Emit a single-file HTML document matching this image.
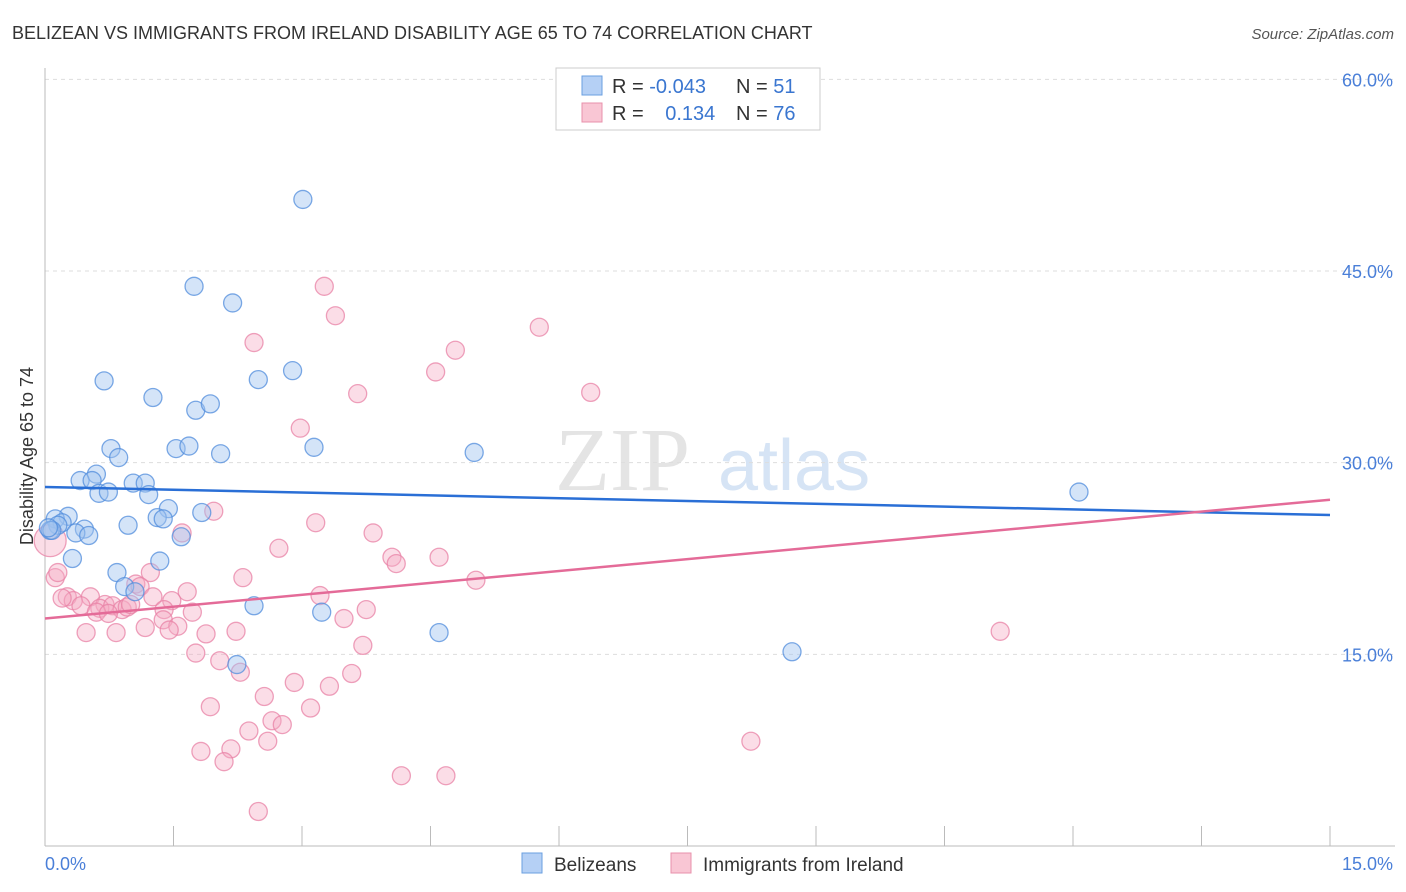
<!DOCTYPE html>
<html><head><meta charset="utf-8"><style>
body{margin:0;background:#fff;font-family:"Liberation Sans",sans-serif;}
svg{display:block}
</style></head><body>
<svg id="chart" width="1406" height="892" xmlns="http://www.w3.org/2000/svg">
<text x="12" y="39" font-size="18" fill="#333">BELIZEAN VS IMMIGRANTS FROM IRELAND DISABILITY AGE 65 TO 74 CORRELATION CHART</text>
<text x="1394" y="39" font-size="15" fill="#555" text-anchor="end" font-style="italic">Source: ZipAtlas.com</text>
<g>
<text x="555" y="490" font-size="90" fill="#e4e4e4" font-family="Liberation Serif,serif">ZIP</text>
<text x="718" y="490" font-size="72" fill="#d6e4f5">atlas</text>
</g>
<g id="grid"></g>
<g id="axes"></g>
<g id="pink"></g>
<g id="blue"></g>
<g id="trends"></g>
<text transform="translate(33,456) rotate(-90)" font-size="18" fill="#333" text-anchor="middle">Disability Age 65 to 74</text>
<g>
<rect x="556" y="68" width="264" height="62" fill="#fff" stroke="#ccc"/>
<rect x="582" y="76" width="20" height="19" fill="#b5d0f5" stroke="#6a9fe0"/>
<rect x="582" y="103" width="20" height="19" fill="#f9c6d4" stroke="#e890ab"/>
<text x="612" y="93" font-size="20" fill="#333">R = <tspan fill="#3a76d0">-0.043</tspan></text>
<text x="736" y="93" font-size="20" fill="#333">N = <tspan fill="#3a76d0">51</tspan></text>
<text x="612" y="120" font-size="20" fill="#333">R = <tspan fill="#3a76d0" dx="16">0.134</tspan></text>
<text x="736" y="120" font-size="20" fill="#333">N = <tspan fill="#3a76d0">76</tspan></text>
</g>
<g>
<rect x="522" y="853" width="20" height="20" fill="#b5d0f5" stroke="#6a9fe0"/>
<text x="554" y="871" font-size="19" fill="#333">Belizeans</text>
<rect x="671" y="853" width="20" height="20" fill="#f9c6d4" stroke="#e890ab"/>
<text x="703" y="871" font-size="19" fill="#333">Immigrants from Ireland</text>
</g>
</svg>
<script>
const yTicks=[15,30,45,60];
const yTickLabels=["15.0%","30.0%","45.0%","60.0%"];
const xTicks=[0,1.5,3,4.5,6,7.5,9,10.5,12,13.5,15];
const blueX=[3.01,1.74,2.19,0.69,2.49,2.89,1.26,1.76,1.93,0.77,0.86,1.53,1.68,2.05,3.14,5.01,0.60,0.41,0.55,1.03,1.17,0.63,0.74,1.21,12.07,1.44,1.31,1.38,1.83,0.27,0.12,0.20,0.15,0.06,0.46,0.36,0.51,0.97,1.59,0.32,1.34,0.84,0.93,1.05,2.44,3.23,4.60,2.24,8.72,0.08,0.04];
const blueY=[50.6,43.8,42.5,36.4,36.5,37.2,35.1,34.1,34.6,31.1,30.4,31.1,31.3,30.7,31.2,30.8,29.1,28.6,28.6,28.4,28.4,27.6,27.7,27.5,27.7,26.4,25.7,25.6,26.1,25.8,25.6,25.3,25.1,24.7,24.8,24.5,24.3,25.1,24.2,22.5,22.3,21.4,20.3,19.9,18.8,18.3,16.7,14.2,15.2,24.7,24.9];
const pinkX=[3.26,3.39,2.44,5.77,4.79,4.56,3.65,6.37,2.98,1.97,3.16,3.83,2.73,4.05,4.10,4.60,1.60,2.31,1.23,5.03,0.12,0.15,0.06,0.53,0.26,0.33,0.20,0.70,0.42,1.06,1.11,1.66,1.48,1.26,3.21,0.64,0.79,0.90,0.96,1.00,0.60,0.74,1.39,1.72,1.38,1.55,3.49,3.75,0.48,0.83,1.17,1.45,1.88,2.23,11.15,3.71,1.76,2.04,2.28,3.58,2.91,3.32,2.56,1.93,3.10,2.65,2.77,2.38,2.17,2.60,1.82,2.09,8.24,4.16,4.68,2.49];
const pinkY=[43.8,41.5,39.4,40.6,38.8,37.1,35.4,35.5,32.7,26.2,25.3,24.5,23.3,22.6,22.1,22.6,24.5,21.0,21.4,20.8,21.0,21.4,23.9,19.5,19.5,19.2,19.4,18.9,18.8,20.5,20.3,19.9,19.2,19.5,19.6,18.6,18.8,18.5,18.7,18.9,18.3,18.2,18.5,18.3,17.7,17.2,17.8,18.5,16.7,16.7,17.1,16.9,16.6,16.8,16.8,15.7,15.1,14.5,13.6,13.5,12.8,12.5,11.7,10.9,10.8,9.8,9.5,9.0,7.6,8.2,7.4,6.6,8.2,5.5,5.5,2.7];
const blueTrend=[28.1,25.9];
const pinkTrend=[17.8,27.1];
const X0=45,X1=1330,Y0=846,PXPER=191.67/15;
const sx=v=>X0+(v/15)*(X1-X0);
const sy=v=>Y0-v*PXPER;
const NS="http://www.w3.org/2000/svg";
function mk(tag,attrs,parent){const e=document.createElementNS(NS,tag);for(const k in attrs)e.setAttribute(k,attrs[k]);parent.appendChild(e);return e;}
const grid=document.getElementById('grid'),axes=document.getElementById('axes');
yTicks.forEach((t,i)=>{
 const l=mk('line',{x1:X0,x2:1395,y1:sy(t),y2:sy(t),stroke:'#ddd','stroke-dasharray':'4,4'},grid);
 
 
 const tx=mk('text',{x:1393,y:sy(t)+7,'font-size':18,fill:'#4a7fd8','text-anchor':'end'},axes);
 tx.textContent=yTickLabels[i];
 
 
});
const ax=mk('line',{x1:X0,x2:1395,y1:Y0,y2:Y0,stroke:'#bbb'},axes);


const ay=mk('line',{x1:X0,x2:X0,y1:68,y2:Y0,stroke:'#bbb'},axes);


xTicks.forEach(t=>{
 const l=mk('line',{x1:sx(t),x2:sx(t),y1:Y0-20,y2:Y0,stroke:'#bbb'},axes);
 
 
});
const xl0=mk('text',{x:45,y:870,'font-size':18,fill:'#4a7fd8'},axes);xl0.textContent='0.0%';


const xl1=mk('text',{x:1393,y:870,'font-size':18,fill:'#4a7fd8','text-anchor':'end'},axes);xl1.textContent='15.0%';


const pg=document.getElementById('pink'),bg=document.getElementById('blue');
pinkX.forEach((v,i)=>{
 const c=mk('circle',{cx:sx(v),cy:sy(pinkY[i]),r:(i===22?16:9),fill:'rgba(244,170,194,0.4)',stroke:'rgba(232,130,165,0.75)','stroke-width':1.3},pg);
 
 
});
blueX.forEach((v,i)=>{
 const c=mk('circle',{cx:sx(v),cy:sy(blueY[i]),r:9,fill:'rgba(160,196,240,0.45)',stroke:'rgba(80,140,220,0.75)','stroke-width':1.3},bg);
 
 
});
const tg=document.getElementById('trends');
const bt=mk('line',{x1:sx(0),x2:sx(15),y1:sy(blueTrend[0]),y2:sy(blueTrend[1]),stroke:'#2a6fd6','stroke-width':2.5},tg);


const pt=mk('line',{x1:sx(0),x2:sx(15),y1:sy(pinkTrend[0]),y2:sy(pinkTrend[1]),stroke:'#e46b98','stroke-width':2.5},tg);


</script>
</body></html>
